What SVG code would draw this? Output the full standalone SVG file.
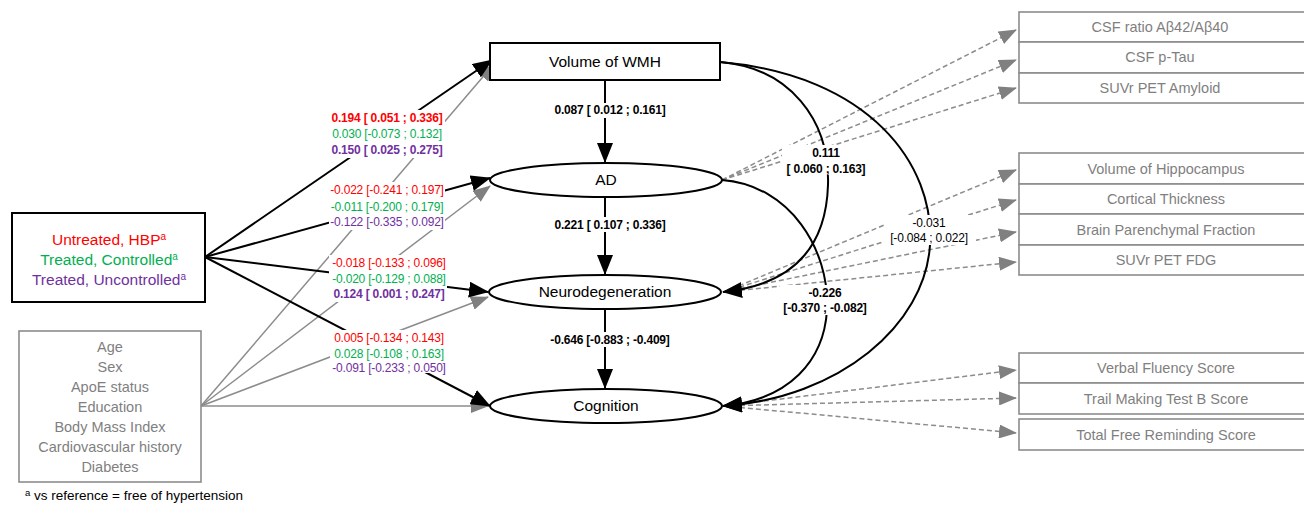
<svg xmlns="http://www.w3.org/2000/svg" width="1304" height="505" viewBox="0 0 1304 505">
<style>
text{font-family:"Liberation Sans",Arial,sans-serif;}
.node{fill:#fff;stroke:#000;stroke-width:2;}
.gbox{fill:#fff;stroke:#8c8c8c;stroke-width:1.6;}
.nt{font-size:15.5px;fill:#000;text-anchor:middle;}
.gt{font-size:14.5px;fill:#7f7f7f;text-anchor:middle;}
.rt{font-size:14.5px;fill:#7f7f7f;text-anchor:middle;}
.lbl{font-size:12px;text-anchor:middle;letter-spacing:-0.2px;}
.b{font-weight:bold;}
.red{fill:#ff0000;}.grn{fill:#00b050;}.pur{fill:#7030a0;}.blk{fill:#000;}
.bl{stroke:#000;stroke-width:2;fill:none;marker-end:url(#ab);}
.gl{stroke:#8c8c8c;stroke-width:1.5;fill:none;marker-end:url(#ag);}
.dl{stroke:#8c8c8c;stroke-width:1.5;fill:none;stroke-dasharray:5 3;marker-end:url(#ag);}
.bg{fill:#fff;}
</style>
<defs>
<marker id="ab" markerUnits="userSpaceOnUse" markerWidth="20" markerHeight="16" refX="19" refY="8" orient="auto"><path d="M0,0 L20,8 L0,16 z" fill="#000"/></marker>
<marker id="ag" markerUnits="userSpaceOnUse" markerWidth="18" markerHeight="14" refX="17" refY="7" orient="auto"><path d="M0,0 L18,7 L0,14 z" fill="#808080"/></marker>
</defs>
<g id="connectors">
<path class="dl" d="M722,180 L1016,30"/>
<path class="dl" d="M722,180 L1016,60"/>
<path class="dl" d="M722,180 L1016,88"/>
<path class="dl" d="M724,292 L1016,170"/>
<path class="dl" d="M724,292 L1016,200"/>
<path class="dl" d="M724,292 L1016,232"/>
<path class="dl" d="M724,292 L1016,262"/>
<path class="dl" d="M724,406 L1016,370"/>
<path class="dl" d="M724,406 L1016,398"/>
<path class="dl" d="M724,406 L1016,433"/>
<path class="gl" d="M201,406 L494,64"/>
<path class="gl" d="M201,406 L490,186"/>
<path class="gl" d="M201,406 L488,297"/>
<path class="gl" d="M201,406 L488,406"/>
<path class="bl" d="M205,257 L492,60"/>
<path class="bl" d="M205,257 L490,178"/>
<path class="bl" d="M205,257 L488,292"/>
<path class="bl" d="M205,257 L490,406"/>
<path class="bl" d="M605,80 L605,162"/>
<path class="bl" d="M605,198 L605,274"/>
<path class="bl" d="M605,310 L605,388"/>
<path class="bl" d="M720,62 C790,68 830,120 828,185 C826,250 790,285 723,292"/>
<path class="bl" d="M720,62 C870,75 935,165 930,245 C925,325 840,398 723,406"/>
<path class="bl" d="M722,180 C790,185 830,250 827,310 C824,360 790,400 723,406"/>
</g>
<g id="labels">
<rect class="bg" x="329" y="110" width="116" height="48"/>
<text class="lbl b red" x="387" y="122">0.194 [ 0.051 ; 0.336]</text>
<text class="lbl grn" x="387" y="138">0.030 [-0.073 ; 0.132]</text>
<text class="lbl b pur" x="387" y="154">0.150 [ 0.025 ; 0.275]</text>
<rect class="bg" x="329" y="182" width="116" height="48"/>
<text class="lbl red" x="387" y="194">-0.022 [-0.241 ; 0.197]</text>
<text class="lbl grn" x="387" y="211">-0.011 [-0.200 ; 0.179]</text>
<text class="lbl pur" x="387" y="226">-0.122 [-0.335 ; 0.092]</text>
<rect class="bg" x="329" y="255" width="118" height="47"/>
<text class="lbl red" x="389" y="267">-0.018 [-0.133 ; 0.096]</text>
<text class="lbl grn" x="389" y="283">-0.020 [-0.129 ; 0.088]</text>
<text class="lbl b pur" x="389" y="298">0.124 [ 0.001 ; 0.247]</text>
<rect class="bg" x="330" y="330" width="118" height="43"/>
<text class="lbl red" x="389" y="342">0.005 [-0.134 ; 0.143]</text>
<text class="lbl grn" x="389" y="358">0.028 [-0.108 ; 0.163]</text>
<text class="lbl pur" x="389" y="372">-0.091 [-0.233 ; 0.050]</text>
<rect class="bg" x="551" y="103" width="118" height="15"/>
<text class="lbl b blk" x="610" y="114">0.087 [ 0.012 ;  0.161]</text>
<rect class="bg" x="551" y="217" width="118" height="15"/>
<text class="lbl b blk" x="610" y="229">0.221 [ 0.107 ;  0.336]</text>
<rect class="bg" x="547" y="332" width="126" height="15"/>
<text class="lbl b blk" x="610" y="344">-0.646 [-0.883 ; -0.409]</text>
<rect class="bg" x="782" y="145" width="88" height="30"/>
<text class="lbl b blk" x="826" y="157">0.111</text>
<text class="lbl b blk" x="826" y="173">[ 0.060 ;  0.163]</text>
<rect class="bg" x="884" y="215" width="92" height="30"/>
<text class="lbl blk" x="929" y="227">-0.031</text>
<text class="lbl blk" x="929" y="242">[-0.084 ;  0.022]</text>
<rect class="bg" x="780" y="285" width="92" height="30"/>
<text class="lbl b blk" x="825" y="297">-0.226</text>
<text class="lbl b blk" x="825" y="312">[-0.370 ; -0.082]</text>
</g>
<g id="hbp">
<rect class="node" x="12" y="213" width="193" height="89"/>
<text class="nt red" x="109" y="245">Untreated, HBP<tspan font-size="10" dy="-5">a</tspan></text>
<text class="nt grn" x="109" y="265">Treated, Controlled<tspan font-size="10" dy="-5">a</tspan></text>
<text class="nt pur" x="109" y="285">Treated, Uncontrolled<tspan font-size="10" dy="-5">a</tspan></text>
</g>
<g id="covariates">
<rect class="gbox" x="19" y="331" width="182" height="151"/>
<text class="gt" x="110" y="352">Age</text>
<text class="gt" x="110" y="372">Sex</text>
<text class="gt" x="110" y="392">ApoE status</text>
<text class="gt" x="110" y="412">Education</text>
<text class="gt" x="110" y="432">Body Mass Index</text>
<text class="gt" x="110" y="452">Cardiovascular history</text>
<text class="gt" x="110" y="472">Diabetes</text>
</g>
<g id="footnote">
<text x="25" y="500" font-size="13.5" fill="#000"><tspan font-size="9.5" dy="-4">a</tspan><tspan dy="4"> vs reference = free of hypertension</tspan></text>
</g>
<g id="wmh">
<rect class="node" x="490" y="43" width="230" height="37"/>
<text class="nt" x="605" y="67">Volume of WMH</text>
</g>
<g id="ad">
<ellipse class="node" cx="606" cy="180" rx="116" ry="17"/>
<text class="nt" x="606" y="185">AD</text>
</g>
<g id="neuro">
<ellipse class="node" cx="605" cy="292" rx="116" ry="17"/>
<text class="nt" x="605" y="297">Neurodegeneration</text>
</g>
<g id="cognition">
<ellipse class="node" cx="606" cy="406" rx="116" ry="17"/>
<text class="nt" x="606" y="411">Cognition</text>
</g>
<g id="amyloid-measures">
<rect class="gbox" x="1019" y="12" width="290" height="30"/>
<rect class="gbox" x="1019" y="42" width="290" height="31"/>
<rect class="gbox" x="1019" y="73" width="290" height="30"/>
<text class="rt" x="1160" y="32">CSF ratio Aβ42/Aβ40</text>
<text class="rt" x="1160" y="62">CSF p-Tau</text>
<text class="rt" x="1160" y="93">SUVr PET Amyloid</text>
</g>
<g id="neuro-measures">
<rect class="gbox" x="1019" y="153" width="290" height="31"/>
<rect class="gbox" x="1019" y="184" width="290" height="30"/>
<rect class="gbox" x="1019" y="214" width="290" height="31"/>
<rect class="gbox" x="1019" y="245" width="290" height="30"/>
<text class="rt" x="1166" y="174">Volume of Hippocampus</text>
<text class="rt" x="1166" y="204">Cortical Thickness</text>
<text class="rt" x="1166" y="235">Brain Parenchymal Fraction</text>
<text class="rt" x="1166" y="265">SUVr PET FDG</text>
</g>
<g id="cognition-measures">
<rect class="gbox" x="1019" y="353" width="290" height="30"/>
<rect class="gbox" x="1019" y="383" width="290" height="31"/>
<rect class="gbox" x="1019" y="419" width="290" height="31"/>
<text class="rt" x="1166" y="373">Verbal Fluency Score</text>
<text class="rt" x="1166" y="404">Trail Making Test B Score</text>
<text class="rt" x="1166" y="440">Total Free Reminding Score</text>
</g>
</svg>
